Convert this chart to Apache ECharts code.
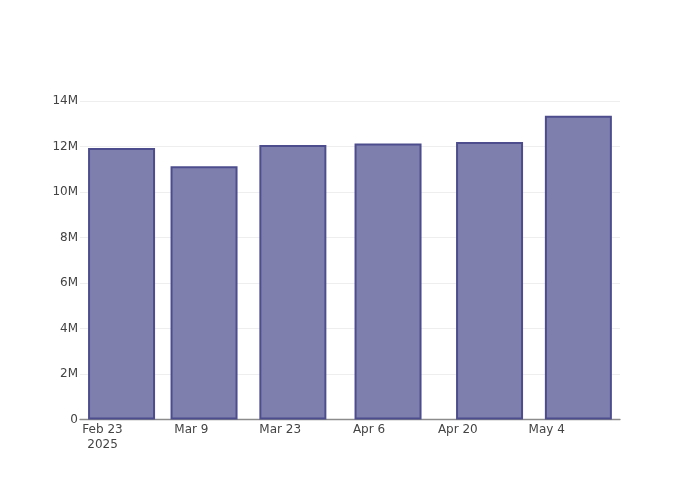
<!DOCTYPE html>
<html>
<head>
<meta charset="utf-8">
<script src="https://cdn.jsdelivr.net/npm/echarts@6/dist/echarts.min.js"></script>
<style>html,body{margin:0;padding:0;background:#fff}#c{width:700px;height:500px}</style>
</head>
<body>
<div id="c"></div>
<script>
// Data
const dates = ['2025-02-26','2025-03-11','2025-03-25','2025-04-09','2025-04-25','2025-05-09'];
const values = [11930000, 11130000, 12070000, 12130000, 12200000, 13350000];
const tickDates = ['2025-02-23','2025-03-09','2025-03-23','2025-04-06','2025-04-20','2025-05-04'];
const tickLabels = ['Feb 23\n2025','Mar 9','Mar 23','Apr 6','Apr 20','May 4'];
const axisStart = '2025-02-23';

const DAY = 86400000;
const t0 = Date.parse(axisStart + 'T00:00:00Z');
const toDay = d => (Date.parse(d + 'T00:00:00Z') - t0) / DAY;
const tickDays = tickDates.map(toDay);
const labelMap = {};
tickDays.forEach((d, i) => { labelMap[d] = tickLabels[i]; });

const FONT = 'DejaVu Sans, sans-serif';
const chart = echarts.init(document.getElementById('c'), null, {renderer: 'canvas'});
chart.setOption({
  animation: false,
  backgroundColor: '#fff',
  grid: {left: 80, right: 80, top: 101, bottom: 80.5, containLabel: false},
  xAxis: {
    type: 'value',
    min: -3.55,
    max: 81.56,
    axisLine: {show: true, lineStyle: {color: '#8c8c8c', width: 1.3}},
    axisTick: {show: false},
    splitLine: {show: false},
    axisLabel: {
      customValues: tickDays,
      formatter: v => labelMap[v] !== undefined ? labelMap[v] : '',
      color: '#444', fontSize: 12, fontFamily: FONT,
      margin: 3, lineHeight: 15
    }
  },
  yAxis: {
    type: 'value',
    min: 0, max: 14000000, interval: 2000000,
    axisLine: {show: false},
    axisTick: {show: false},
    splitLine: {show: true, lineStyle: {color: '#eeeeee', width: 1}},
    axisLabel: {
      formatter: v => v === 0 ? '0' : (v / 1e6) + 'M',
      color: '#444', fontSize: 12, fontFamily: FONT, margin: 2
    }
  },
  series: [{
    type: 'bar',
    barWidth: 67,
    data: dates.map((d, i) => [toDay(d), values[i]]),
    itemStyle: {color: '#7f7fae', borderColor: '#4d4d8e', borderWidth: 2}
  }]
});
</script>
</body>
</html>
